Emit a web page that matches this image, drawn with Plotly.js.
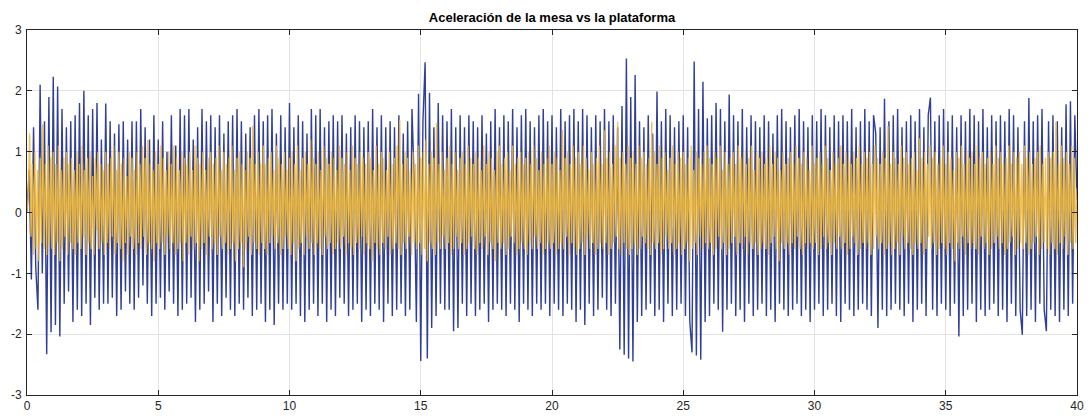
<!DOCTYPE html>
<html>
<head>
<meta charset="utf-8">
<script src="https://cdn.plot.ly/plotly-3.0.1.min.js"></script>
<style>html,body{margin:0;padding:0;background:#fff;}#chart{width:1088px;height:416px;}</style>
</head>
<body>
<div id="chart"></div>
<script>
const chartTitle = "Aceleración de la mesa vs la plataforma";
const xTickVals = [0, 5, 10, 15, 20, 25, 30, 35, 40];
const xTickText = ["0", "5", "10", "15", "20", "25", "30", "35", "40"];
const yTickVals = [-3, -2, -1, 0, 1, 2, 3];
const yTickText = ["-3", "-2", "-1", "0", "1", "2", "3"];

// sampling rates of the two traces (samples per second of the x axis)
const mesaRate = 12;
const plataformaRate = 20;

// blue trace (mesa), 12 values per second
const mesa = [
 0, 0.7, -1.1, 1.4, -0.9, -1.6, 2.1, -1.0, 1.5, -2.33, 1.9, -1.97,
 2.23, -1.85, 2.07, -2.04, 1.7, -1.5, 1.4, -1.3, 1.5, -1.8, 1.6, -1.6,
 1.8, -1.7, 2.0, -1.5, 1.6, -1.85, 1.7, -1.4, 1.8, -1.6, 1.2, -1.5,
 1.79, -1.5, 1.5, -1.4, 1.3, -1.7, 1.45, -1.6, 1.5, -1.3, 1.2, -1.5,
 1.5, -1.6, 1.5, -1.4, 1.7, -1.2, 1.4, -1.5, 1.2, -1.7, 1.6, -1.5,
 1.2, -1.4, 1.5, -1.6, 1.0, -1.3, 1.6, -1.5, 1.1, -1.7, 1.7, -1.6,
 1.6, -1.5, 1.7, -1.4, 1.2, -1.8, 1.4, -1.6, 1.7, -1.5, 1.5, -1.3,
 1.6, -1.8, 1.4, -1.5, 1.6, -1.7, 1.3, -1.4, 1.5, -1.6, 1.6, -1.7,
 1.7, -1.5, 1.5, -1.6, 1.3, -1.4, 1.4, -1.7, 1.6, -1.6, 1.7, -1.5,
 1.5, -1.8, 1.6, -1.6, 1.7, -1.85, 1.3, -1.5, 1.6, -1.6, 1.4, -1.5,
 1.8, -1.6, 1.4, -1.5, 1.6, -1.7, 1.5, -1.8, 1.3, -1.6, 1.7, -1.5,
 1.6, -1.7, 1.7, -1.5, 1.4, -1.8, 1.5, -1.6, 1.6, -1.7, 1.5, -1.4,
 1.6, -1.5, 1.3, -1.7, 1.4, -1.6, 1.6, -1.5, 1.5, -1.8, 1.4, -1.6,
 1.5, -1.7, 1.7, -1.5, 1.4, -1.6, 1.6, -1.8, 1.4, -1.5, 1.5, -1.7,
 1.4, -1.6, 1.6, -1.5, 1.3, -1.7, 1.5, -1.6, 1.7, 0.5, -1.8, 1.95,
 -2.44, 1.5, 2.47, -2.40, 1.97, -1.9, 1.4, -1.7, 1.8, -1.5, 1.6, -1.6,
 1.5, -1.6, 1.7, -1.95, 1.4, -1.9, 1.6, -1.5, 1.4, -1.7, 1.6, -1.5,
 1.5, -1.7, 1.4, -1.6, 1.6, -1.5, 1.3, -1.8, 1.5, -1.6, 1.7, -1.5,
 1.4, -1.6, 1.6, -1.7, 1.5, -1.5, 1.7, -1.6, 1.4, -1.8, 1.6, -1.5,
 1.7, -1.6, 1.5, -1.7, 1.4, -1.5, 1.6, -1.6, 1.7, -1.5, 1.5, -1.7,
 1.6, -1.5, 1.4, -1.6, 1.7, -1.7, 1.5, -1.5, 1.6, -1.6, 1.7, -1.8,
 1.5, -1.6, 1.7, -1.85, 1.6, -1.5, 1.4, -1.7, 1.6, -1.6, 1.5, -1.4,
 1.7, -1.6, 1.5, -1.7, 1.6, -1.5, 1.4, -2.25, 1.75, -2.34, 2.53, -2.4,
 1.9, -2.45, 2.26, -1.8, 1.5, -1.7, 1.4, -1.6, 1.6, -1.5, 1.3, -1.7,
 1.99, -1.6, 1.5, -1.8, 1.7, -1.5, 1.6, -1.7, 1.4, -1.6, 1.5, -1.5,
 1.6, -1.7, 1.4, -1.8, -2.3, 2.48, -2.35, 1.7, -2.42, 2.15, -1.8, 1.55,
 -1.7, 1.6, -1.5, 1.8, -1.6, 1.7, -1.96, 1.5, -1.6, 1.94, -1.5, 1.6,
 -1.7, 1.5, -1.6, 1.7, -1.8, 1.4, -1.5, 1.6, -1.7, 1.5, -1.6, 1.4,
 -1.5, 1.6, -1.7, 1.5, -1.6, 1.3, -1.8, 1.6, -1.5, 1.7, -1.6, 1.5,
 -1.7, 1.4, -1.6, 1.6, -1.5, 1.7, -1.7, 1.5, -1.6, 1.4, -1.8, 1.6,
 -1.6, 1.5, -1.5, 1.7, -1.7, 1.6, -1.6, 1.4, -1.5, 1.6, -1.7, 1.5,
 -1.8, 1.6, -1.5, 1.5, -1.6, 1.7, -1.7, 1.4, -1.6, 1.5, -1.5, 1.7,
 -1.6, 1.5, -1.7, 1.6, 1.3, -1.9, 1.4, -1.6, 1.87, -1.7, 1.5, -1.6,
 1.6, -1.5, 1.7, -1.6, 1.4, -1.7, 1.5, -1.5, 1.6, -1.8, 1.5, -1.6,
 1.7, -1.5, 1.4, -1.7, 1.6, 1.89, -1.6, 1.5, -1.7, 1.6, -1.5, 1.7,
 -1.6, 1.5, -1.7, 1.6, -1.5, 1.4, -2.04, 1.6, -1.7, 1.5, -1.6, 1.7,
 -1.5, 1.6, -1.8, 1.5, -1.6, 1.7, -1.7, 1.4, -1.6, 1.6, -1.5, 1.5,
 -1.7, 1.6, -1.6, 1.5, -1.8, 1.7, -1.5, 1.6, -1.7, 1.4, -1.6, -2.01,
 1.5, -1.7, 1.88, -1.6, 1.5, -1.8, 1.6, -1.5, 1.7, -1.6, -1.95, 1.5,
 -1.6, 1.6, -1.7, 1.5, -1.8, 1.4, -1.6, 1.78, -1.7, 1.83, -1.5, 1.6,
 0.2
];

// yellow trace (plataforma), 20 values per second
const plataforma = [
 0, 0.3, 1.3, -0.4, 0.8, -0.7, 1.0, -0.6, 0.7, -0.8, 0.9, -0.5, 1.45, -0.6, 0.8, -0.7, 1.1, -0.5, 0.9, -0.6,
 1.0, -0.7, 0.8, -0.5, 1.1, -0.8, 0.7, -0.6, 0.9, -0.4, 1.0, -0.7, 0.8, -0.5, 0.9, -0.6, 0.7, -0.7, 1.0, -0.5,
 0.8, -0.6, 1.1, -0.4, 0.7, -0.7, 0.9, -0.5, 1.0, -0.6, 0.6, -0.7, 0.9, -0.3, 1.0, -0.6, 0.8, -0.5, 0.7, -0.7,
 1.0, -0.5, 0.8, -0.6, 0.9, -0.4, 1.1, -0.7, 0.7, -0.5, 1.0, -0.6, 0.8, -0.8, 0.9, -0.5, 0.6, -0.7, 1.0, -0.4,
 0.9, -0.6, 0.7, -0.7, 1.0, -0.5, 0.8, -0.6, 1.1, -0.4, 0.9, -0.7, 1.19, -0.5, 0.8, -0.6, 0.7, -0.8, 1.0, -0.5,
 0.8, -0.6, 1.1, -0.5, 0.9, -0.7, 0.7, -0.4, 1.0, -0.6, 0.8, -0.5, 1.1, -0.7, 0.9, -0.6, 0.7, -0.5, 1.0, -0.8,
 0.9, -0.5, 0.8, -0.7, 1.0, -0.4, 0.7, -0.6, 1.1, -0.5, 0.9, -0.8, 0.8, -0.6, 1.0, -0.5, 0.7, -0.7, 0.9, -0.4,
 1.0, -0.6, 0.8, -0.5, 0.9, -0.7, 1.1, -0.4, 0.7, -0.6, 1.0, -0.5, 0.8, -0.7, 0.9, -0.6, 1.1, -0.5, 0.7, -0.8,
 0.9, -0.6, 1.0, -0.5, 0.8, -0.9, 0.7, -0.6, 1.0, -0.4, 0.9, -0.7, 1.42, -0.5, 0.8, -0.6, 1.0, -0.7, 0.8, -0.5,
 1.1, -0.6, 0.8, -0.7, 0.9, -0.5, 1.0, -0.4, 0.7, -0.6, 1.1, -0.5, 0.9, -0.7, 0.8, -0.6, 1.0, -0.4, 0.7, -0.6,
 0.9, -0.7, 1.0, -0.5, 0.8, -0.8, 1.1, -0.6, 0.7, -0.5, 0.9, -0.7, 1.0, -0.4, 0.8, -0.6, 1.2, -0.5, 0.9, -0.7,
 0.8, -0.5, 1.0, -0.6, 0.7, -0.7, 1.1, -0.4, 0.9, -0.6, 0.8, -0.5, 1.0, -0.7, 0.9, -0.6, 0.7, -0.5, 1.1, -0.6,
 0.9, -0.4, 0.8, -0.7, 1.0, -0.5, 0.7, -0.6, 1.1, -0.7, 0.9, -0.5, 0.8, -0.6, 1.0, -0.4, 0.9, -0.7, 0.8, -0.5,
 1.0, -0.6, 0.9, -0.8, 0.7, -0.5, 1.1, -0.6, 0.8, -0.7, 1.0, -0.5, 0.9, -0.6, 0.7, -0.4, 1.0, -0.7, 0.8, -0.6,
 0.9, -0.5, 1.1, -0.6, 1.52, -0.7, 0.8, -0.5, 1.0, -0.6, 0.9, -0.4, 0.7, -0.7, 1.0, -0.5, 0.8, -0.6, 1.1, -0.5,
 0.9, -0.7, 1.0, -0.6, 1.2, -0.8, 0.8, -0.5, 1.0, -0.6, 0.9, -0.7, 1.47, -0.5, 0.8, -0.6, 1.0, -0.4, 0.7, -0.6,
 0.9, -0.5, 1.1, -0.7, 0.8, -0.6, 1.0, -0.4, 0.7, -0.6, 0.9, -0.5, 1.0, -0.7, 0.8, -0.6, 1.1, -0.5, 0.9, -0.4,
 0.8, -0.6, 1.0, -0.7, 0.9, -0.5, 0.7, -0.6, 1.1, -0.4, 0.8, -0.7, 1.0, -0.5, 0.9, -0.6, 0.7, -0.8, 1.0, -0.5,
 1.1, -0.6, 0.8, -0.5, 0.9, -0.7, 1.0, -0.6, 0.7, -0.4, 1.1, -0.5, 0.8, -0.7, 0.9, -0.6, 1.0, -0.5, 0.8, -0.6,
 0.9, -0.7, 1.0, -0.5, 0.8, -0.6, 1.1, -0.4, 0.9, -0.6, 0.7, -0.5, 1.0, -0.7, 0.8, -0.6, 0.9, -0.5, 1.1, -0.6,
 0.8, -0.5, 1.0, -0.7, 0.9, -0.6, 0.7, -0.5, 1.36, -0.6, 0.9, -0.4, 1.0, -0.7, 0.8, -0.5, 1.1, -0.6, 0.9, -0.7,
 1.0, -0.6, 0.8, -0.5, 1.1, -0.7, 0.9, -0.4, 0.7, -0.6, 1.0, -0.5, 0.8, -0.7, 0.9, -0.6, 1.1, -0.5, 0.8, -0.6,
 1.35, -0.5, 0.9, -0.7, 1.0, -0.6, 0.8, -0.5, 1.1, -0.4, 1.49, -0.6, 0.9, -0.7, 1.0, -0.5, 0.8, -0.6, 1.1, -0.7,
 0.9, -0.6, 1.0, -0.5, 0.8, -0.7, 1.1, -0.6, 0.9, -0.4, 1.0, -0.5, 0.8, -0.6, 0.9, -0.7, 1.49, -0.5, 1.0, -0.6,
 0.8, -0.5, 1.1, -0.7, 0.9, -0.6, 1.0, -0.4, 0.7, -0.6, 0.9, -0.5, 1.1, -0.7, 0.8, -0.6, 1.0, -0.5, 0.9, -0.7,
 1.0, -0.6, 0.8, -0.5, 0.9, -0.8, 1.1, -0.6, 0.7, -0.5, 1.0, -0.7, 0.9, -0.4, 0.8, -0.6, 1.0, -0.5, 1.1, -0.6,
 0.9, -0.5, 0.8, -0.7, 1.0, -0.6, 0.9, -0.4, 1.1, -0.6, 0.7, -0.5, 1.0, -0.7, 0.8, -0.6, 0.9, -0.5, 1.0, -0.4,
 0.8, -0.7, 1.1, -0.5, 0.9, -0.6, 1.0, -0.4, 0.8, -0.7, 0.9, -0.5, 1.1, -0.6, 0.7, -0.5, 1.0, -0.7, 0.9, -0.6,
 1.0, -0.5, 0.8, -0.6, 0.9, -0.7, 1.1, -0.5, 0.8, -0.4, 1.0, -0.6, 0.9, -0.8, 0.7, -0.5, 1.0, -0.6, 0.8, -0.5,
 0.9, -0.7, 1.0, -0.5, 0.8, -0.6, 1.1, -0.4, 0.9, -0.6, 0.8, -0.7, 1.0, -0.5, 0.9, -0.6, 0.7, -0.5, 1.1, -0.6,
 0.8, -0.5, 0.9, -0.7, 1.0, -0.6, 0.8, -0.4, 1.1, -0.6, 0.9, -0.5, 0.7, -0.7, 1.0, -0.5, 0.8, -0.6, 0.9, -0.4,
 1.1, -0.6, 0.8, -0.5, 1.0, -0.7, 0.9, -0.6, 0.8, -0.4, 1.0, -0.5, 0.9, -0.7, 1.1, -0.6, 0.8, -0.5, 1.0, -0.6,
 0.9, -0.5, 1.0, -0.7, 0.8, -0.6, 1.1, -0.4, 0.9, -0.6, 0.8, -0.5, 1.0, -0.7, 0.9, -0.6, 1.42, -0.5, 0.8, -0.7,
 1.0, -0.6, 0.9, -0.5, 0.8, -0.7, 1.1, -0.4, 0.9, -0.6, 1.0, -0.5, 0.8, -0.6, 0.9, -0.7, 1.0, -0.5, 0.7, -0.6,
 1.22, -0.5, 0.9, -0.7, 1.0, -0.6, 0.8, -0.4, 1.1, -0.6, 0.9, -0.5, 1.0, -0.7, 0.8, -0.6, 0.9, -0.5, 1.1, -0.6,
 0.8, -0.7, 1.0, -0.5, 0.9, -0.6, 0.7, -0.8, 1.0, -0.5, 0.9, -0.6, 1.1, -0.4, 0.8, -0.7, 1.0, -0.5, 0.9, -0.6,
 1.0, -0.5, 0.8, -0.6, 1.1, -0.7, 0.9, -0.4, 1.0, -0.6, 0.8, -0.5, 0.9, -0.7, 1.0, -0.6, 0.8, -0.5, 1.1, -0.4,
 0.9, -0.6, 1.0, -0.5, 0.8, -0.7, 0.9, -0.6, 1.1, -0.5, 0.8, -0.4, 1.0, -0.7, 0.9, -0.6, 1.0, -0.5, 0.8, -0.6,
 1.1, -0.5, 0.9, -0.7, 1.0, -0.6, 0.8, -0.5, 0.9, -0.4, 1.0, -0.7, 1.1, -0.6, 0.8, -0.5, 0.9, -0.6, 1.0, -0.7,
 0.9, -0.5, 1.0, -0.6, 1.49, -0.7, 0.8, -0.5, 1.1, -0.6, 0.9, -0.4, 1.0, -0.7, 0.8, -0.5, 1.1, -0.6, 0.9, -0.5,
 0.4
];

const tMesa = mesa.map((_, i) => i / mesaRate);
const tPlat = plataforma.map((_, i) => i / plataformaRate);

const traces = [
  {
    x: tMesa, y: mesa, type: 'scatter', mode: 'lines', name: 'mesa',
    line: { color: '#2f3f98', width: 1.4 }, hoverinfo: 'skip'
  },
  {
    x: tPlat, y: plataforma, type: 'scatter', mode: 'lines', name: 'plataforma',
    line: { color: '#f0b735', width: 1.4 }, opacity: 0.85, hoverinfo: 'skip'
  }
];

const axisCommon = {
  showline: true, linecolor: '#262626', linewidth: 1, mirror: 'ticks',
  ticks: 'inside', ticklen: 5, tickcolor: '#262626', tickwidth: 1,
  showgrid: true, gridcolor: '#e3e3e3', gridwidth: 1, zeroline: false,
  tickfont: { family: 'Liberation Sans, Arial, sans-serif', size: 12, color: '#262626' },
  tickmode: 'array'
};

const layout = {
  width: 1088, height: 416,
  margin: { l: 27, r: 11, t: 30, b: 21 },
  paper_bgcolor: '#ffffff', plot_bgcolor: '#ffffff',
  showlegend: false,
  title: {
    text: '<b>' + chartTitle + '</b>',
    font: { family: 'Liberation Sans, Arial, sans-serif', size: 13, color: '#000000' },
    x: 0.5, xref: 'paper', xanchor: 'center',
    y: 1 - 17 / 416, yref: 'container', yanchor: 'middle'
  },
  xaxis: Object.assign({}, axisCommon, {
    range: [0, 40], tickvals: xTickVals, ticktext: xTickText
  }),
  yaxis: Object.assign({}, axisCommon, {
    range: [-3, 3], tickvals: yTickVals, ticktext: yTickText, ticklabelstandoff: 2
  })
};

Plotly.newPlot('chart', traces, layout, { displayModeBar: false, staticPlot: true });
</script>
</body>
</html>
